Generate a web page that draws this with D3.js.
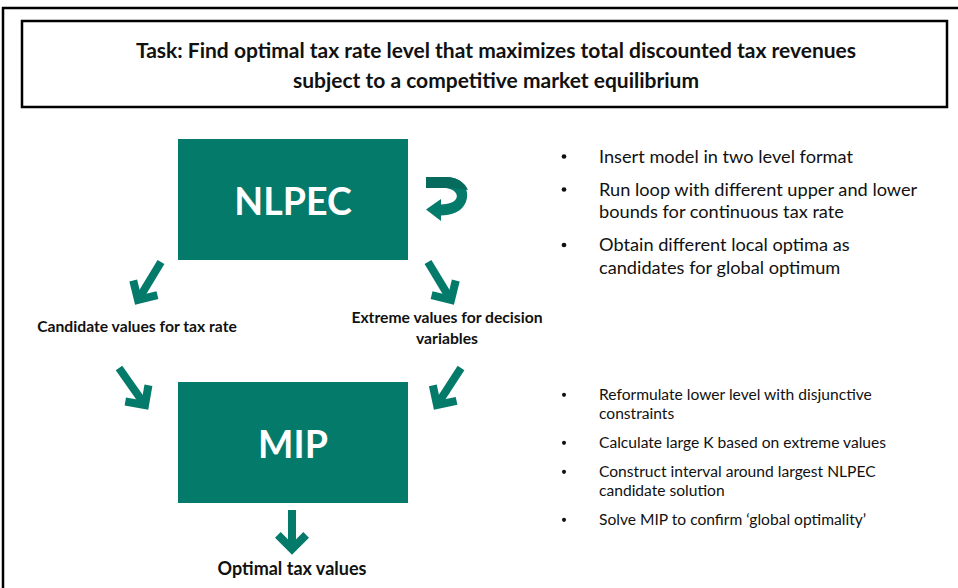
<!DOCTYPE html>
<html>
<head>
    <style>
        body { margin: 0; background: #fff; }
        svg { display: block; font-family: Lato, "Open Sans", sans-serif; }
        .title { font-weight: bold; font-size: 21px; fill: #111; text-anchor: middle; }
        .boxlabel { font-weight: bold; font-size: 37.5px; fill: #fff; text-anchor: middle; }
        .label { font-weight: bold; font-size: 15.7px; fill: #111; text-anchor: middle; }
        .bullet { fill: #111; }
    </style>
    <script src="https://d3js.org/d3.v7.min.js"></script>
</head>
<body>
    <svg width="958" height="588"></svg>
    <script>
        // content
        var titleLines = ["Task: Find optimal tax rate level that maximizes total discounted tax revenues",
                          "subject to a competitive market equilibrium"];
        var boxNames = ["NLPEC", "MIP"];
        var flowLabels = [["Candidate values for tax rate"],
                          ["Extreme values for decision", "variables"],
                          ["Optimal tax values"]];
        var nlpecSteps = [["Insert model in two level format"],
                          ["Run loop with different upper and lower", "bounds for continuous tax rate"],
                          ["Obtain different local optima as", "candidates for global optimum"]];
        var mipSteps = [["Reformulate lower level with disjunctive", "constraints"],
                        ["Calculate large K based on extreme values"],
                        ["Construct interval around largest NLPEC", "candidate solution"],
                        ["Solve MIP to confirm \u2018global optimality\u2019"]];

        var teal = "#047a6b";

        var svg = d3.select("svg");

        // frames
        svg.append("rect").attr("x", 3).attr("y", 8).attr("width", 1000).attr("height", 1000)
           .attr("fill", "none").attr("stroke", "#000").attr("stroke-width", 2.5);
        svg.append("rect").attr("x", 22).attr("y", 21).attr("width", 925).attr("height", 86)
           .attr("fill", "#fff").attr("stroke", "#000").attr("stroke-width", 2.5);

        svg.selectAll(".title").data(titleLines).enter().append("text")
           .attr("class", "title")
           .attr("x", 496)
           .attr("y", function(d, i) { return 57.5 + i * 30.5; })
           .text(function(d) { return d; });

        // boxes
        var boxPos = [{x: 178, y: 139}, {x: 178, y: 382}];
        var box = svg.selectAll(".box").data(boxNames).enter().append("g")
                     .attr("class", "box")
                     .attr("transform", function(d, i) { return "translate(" + boxPos[i].x + "," + boxPos[i].y + ")"; });
        box.append("rect").attr("width", 230).attr("height", 121).attr("fill", teal);
        box.append("text").attr("class", "boxlabel").attr("x", 115).attr("y", 76)
           .text(function(d) { return d; });

        // arrows: tail -> tip
        var arrows = [
            [[161, 262], [138, 300]],
            [[428, 262], [451, 300]],
            [[119, 368], [145, 405]],
            [[461, 368], [437, 405]],
            [[292, 510], [292, 549]]
        ];
        var headLen = 20;
        arrows.forEach(function(a) {
            var t = a[0], p = a[1];
            var ang = Math.atan2(p[1] - t[1], p[0] - t[0]);
            var h1 = [p[0] - headLen * Math.cos(ang - Math.PI / 4), p[1] - headLen * Math.sin(ang - Math.PI / 4)];
            var h2 = [p[0] - headLen * Math.cos(ang + Math.PI / 4), p[1] - headLen * Math.sin(ang + Math.PI / 4)];
            var end = [p[0] - 4 * Math.cos(ang), p[1] - 4 * Math.sin(ang)];
            svg.append("path").attr("d", d3.line()([t, end]))
               .attr("stroke", teal).attr("stroke-width", 8).attr("fill", "none");
            svg.append("path").attr("d", d3.line()([h1, p, h2]))
               .attr("stroke", teal).attr("stroke-width", 8).attr("fill", "none")
               .attr("stroke-linejoin", "miter");
        });

        // loop arrow next to NLPEC
        svg.append("path")
           .attr("d", "M426,177 L447,177 C474,178 474,212 447,215 L441,215.5 L441,221 L426,209.5 L441,199 L441,204.5 L446,204 C461,202 460,190 446,188 L426,188 Z")
           .attr("fill", teal);
        svg.append("path")
           .attr("d", "M426,177 L447,177 C458,177.5 465,183 468,190 C462,189 455,188 446,188 L426,188 Z")
           .attr("fill", "#066a5d");

        // flow labels
        var labelPos = [[137, 332], [447, 323], [292, 575]];
        flowLabels.forEach(function(lines, i) {
            svg.selectAll(null).data(lines).enter().append("text")
               .attr("class", "label")
               .attr("x", labelPos[i][0])
               .attr("y", function(d, j) { return labelPos[i][1] + j * 21; })
               .style("font-size", i === 2 ? "18px" : null)
               .text(function(d) { return d; });
        });

        // bullet lists
        function bulletList(items, top, lineH, gap, size) {
            var y = top;
            items.forEach(function(lines) {
                svg.append("circle").attr("cx", 564).attr("cy", y - size * 0.33).attr("r", size * 0.13)
                   .attr("class", "bullet");
                lines.forEach(function(l, j) {
                    svg.append("text").attr("x", 599).attr("y", y + j * lineH)
                       .style("font-size", size + "px").attr("fill", "#111").text(l);
                });
                y += lines.length * lineH + gap;
            });
        }
        bulletList(nlpecSteps, 162.5, 22.5, 10.5, 18.2);
        bulletList(mipSteps, 400, 19, 10, 15.6);
    </script>
</body>
</html>
